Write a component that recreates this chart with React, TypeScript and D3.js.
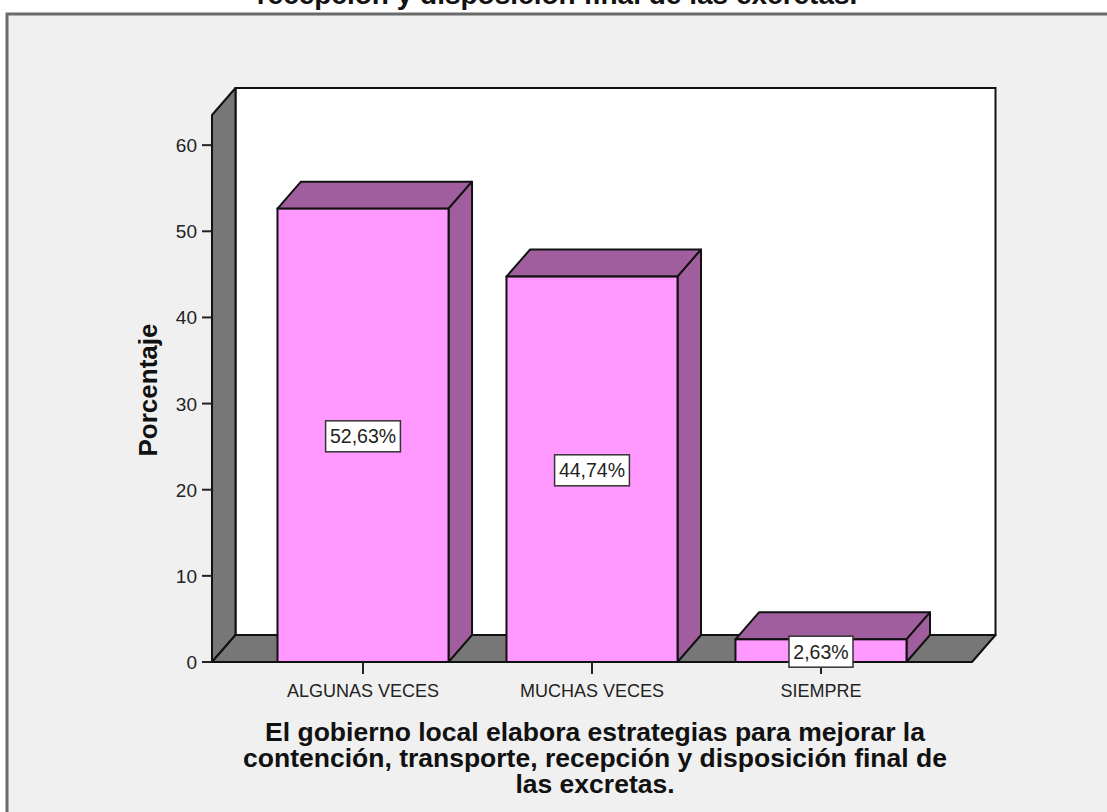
import React from "react";
import * as d3 from "d3";

const categories = ["ALGUNAS VECES", "MUCHAS VECES", "SIEMPRE"];
const values = [52.63, 44.74, 2.63];
const valueLabels = ["52,63%", "44,74%", "2,63%"];
const yTicks = [0, 10, 20, 30, 40, 50, 60];
const titleText = "recepción y disposición final de las excretas.";
const xTitleLines = [
  "El gobierno local elabora estrategias para mejorar la",
  "contención, transporte, recepción y disposición final de",
  "las excretas.",
];
const yTitle = "Porcentaje";

const W = 1107;
const H = 812;
const FONT = "Arial, 'Liberation Sans', sans-serif";

export default function App() {
  const x0 = 212, x1 = 972, yBottom = 662, yTop = 115;
  const dx = 23.5, dy = 27;
  const y = d3.scaleLinear().domain([0, 63.5]).range([yBottom, yTop]);
  const x = d3.scaleBand<string>().domain(categories).range([x0, x1])
    .paddingInner(0.253).paddingOuter(0.286);
  const bw = x.bandwidth();

  const pts = (a: number[][]) => a.map(p => p.join(",")).join(" ");

  return (
    <svg width={W} height={H} style={{ position: "absolute", left: 0, top: 0, background: "#fff" }}>
      <rect x={0} y={0} width={W} height={H} fill="#ffffff" />
      <text x={557} y={4} textAnchor="middle" fontFamily={FONT} fontWeight="bold" fontSize={28} fill="#111">{titleText}</text>
      <rect x={7} y={14} width={1200} height={900} fill="#f0f0f0" stroke="#6a6a6a" strokeWidth={3} />

      {/* back wall */}
      <rect x={x0 + dx} y={yTop - dy} width={x1 - x0} height={yBottom - yTop} fill="#ffffff" stroke="#111" strokeWidth={2} />
      {/* left wall */}
      <polygon points={pts([[x0, yBottom], [x0, yTop], [x0 + dx, yTop - dy], [x0 + dx, yBottom - dy]])} fill="#777777" stroke="#111" strokeWidth={2} strokeLinejoin="round" />
      {/* floor */}
      <polygon points={pts([[x0, yBottom], [x0 + dx, yBottom - dy], [x1 + dx, yBottom - dy], [x1, yBottom]])} fill="#777777" stroke="#111" strokeWidth={2} strokeLinejoin="round" />

      {/* y ticks */}
      {yTicks.map(t => (
        <g key={t}>
          <line x1={x0 - 10} x2={x0} y1={y(t)} y2={y(t)} stroke="#222" strokeWidth={2} />
          <text x={x0 - 15} y={y(t) + 7} textAnchor="end" fontFamily={FONT} fontSize={19} fill="#222">{t}</text>
        </g>
      ))}

      {/* bars */}
      {categories.map((c, i) => {
        const bx = x(c)!;
        const ty = y(values[i]);
        return (
          <g key={c}>
            <polygon points={pts([[bx, ty], [bx + dx, ty - dy], [bx + bw + dx, ty - dy], [bx + bw, ty]])} fill="#a05e9e" stroke="#111" strokeWidth={2} strokeLinejoin="round" />
            <polygon points={pts([[bx + bw, ty], [bx + bw + dx, ty - dy], [bx + bw + dx, yBottom - dy], [bx + bw, yBottom]])} fill="#a05e9e" stroke="#111" strokeWidth={2} strokeLinejoin="round" />
            <rect x={bx} y={ty} width={bw} height={yBottom - ty} fill="#ff99ff" stroke="#111" strokeWidth={2} />
          </g>
        );
      })}

      {/* x ticks and labels */}
      {categories.map(c => {
        const cx = x(c)! + bw / 2;
        return (
          <g key={c}>
            <line x1={cx} x2={cx} y1={yBottom} y2={yBottom + 12} stroke="#222" strokeWidth={2} />
            <text x={cx} y={697} textAnchor="middle" fontFamily={FONT} fontSize={18} fill="#222">{c}</text>
          </g>
        );
      })}

      {/* value labels */}
      {categories.map((c, i) => {
        const cx = x(c)! + bw / 2;
        const cy = (y(values[i]) + yBottom) / 2 + 1;
        const w = valueLabels[i].length * 10.8 + 10;
        return (
          <g key={c}>
            <rect x={cx - w / 2} y={cy - 15.5} width={w} height={31} fill="#ffffff" stroke="#333" strokeWidth={1.5} />
            <text x={cx} y={cy + 7} textAnchor="middle" fontFamily={FONT} fontSize={19.5} fill="#222">{valueLabels[i]}</text>
          </g>
        );
      })}

      <text transform="translate(157,390) rotate(-90)" textAnchor="middle" fontFamily={FONT} fontWeight="bold" fontSize={26} fill="#111">{yTitle}</text>

      {xTitleLines.map((l, i) => (
        <text key={i} x={595} y={741 + i * 26} textAnchor="middle" fontFamily={FONT} fontWeight="bold" fontSize={26.5} fill="#111">{l}</text>
      ))}
    </svg>
  );
}
